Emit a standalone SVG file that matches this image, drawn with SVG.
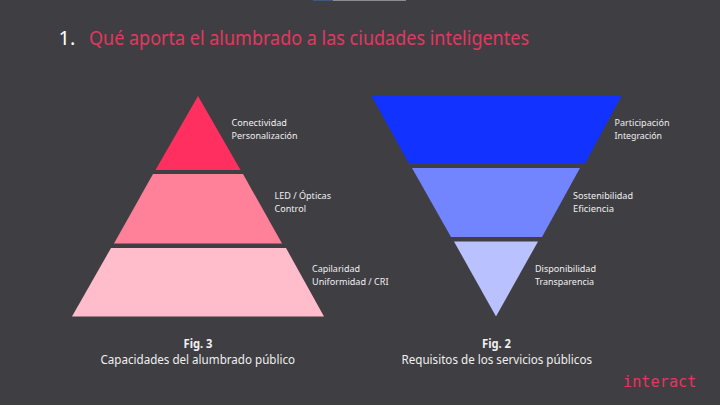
<svg xmlns="http://www.w3.org/2000/svg" width="720" height="405" viewBox="0 0 720 405">
<style>
text{font-family:"Noto Sans","Open Sans","Liberation Sans",sans-serif;fill:#f0f0f0}
.l{font-size:9.8px}
.c{font-size:12.6px}
.b{font-weight:700;font-size:12.4px}
.t{font-size:20px;fill:#e5365f}
</style>
<rect width="720" height="405" fill="#3f3e43"/>
<g id="strip"><rect x="313" y="0" width="20" height="1" fill="#3c5a80"/><rect x="333" y="0" width="73" height="1" fill="#8d8d90"/></g>
<g id="title"><text x="58.500" y="44.500" style="font-size:20px;fill:#fff">1.</text><text class="t" x="89" y="44.500" textLength="440" lengthAdjust="spacingAndGlyphs">Qué aporta el alumbrado a las ciudades inteligentes</text></g>
<g id="pyramid">
<g id="p1"><polygon points="198,96 240.500,170 155.500,170" fill="#ff3060"/><text class="l" x="231.500" y="125.500" textLength="55.500" lengthAdjust="spacingAndGlyphs">Conectividad</text><text class="l" x="231.500" y="138.500" textLength="66" lengthAdjust="spacingAndGlyphs">Personalización</text></g>
<g id="p2"><polygon points="153,174 243,174 282,243.500 114,243.500" fill="#ff8099"/><text class="l" x="274.500" y="198.500" textLength="56.500" lengthAdjust="spacingAndGlyphs">LED / Ópticas</text><text class="l" x="274.500" y="211.500" textLength="31.500" lengthAdjust="spacingAndGlyphs">Control</text></g>
<g id="p3"><polygon points="111,248 286,248 324,316.500 72,316.500" fill="#ffbccb"/><text class="l" x="312" y="271.500" textLength="48" lengthAdjust="spacingAndGlyphs">Capilaridad</text><text class="l" x="312" y="284.500" textLength="76.500" lengthAdjust="spacingAndGlyphs">Uniformidad / CRI</text></g>
</g>
<g id="funnel">
<g id="f1"><polygon points="371,95 622,95 585,163.500 409,163.500" fill="#1232ff"/><text class="l" x="614.500" y="125.500" textLength="55" lengthAdjust="spacingAndGlyphs">Participación</text><text class="l" x="614.500" y="138.500" textLength="47.500" lengthAdjust="spacingAndGlyphs">Integración</text></g>
<g id="f2"><polygon points="412,168 580,168 542,237 451,237" fill="#7285ff"/><text class="l" x="573" y="198.500" textLength="60" lengthAdjust="spacingAndGlyphs">Sostenibilidad</text><text class="l" x="573" y="211.500" textLength="41" lengthAdjust="spacingAndGlyphs">Eficiencia</text></g>
<g id="f3"><polygon points="454,241.500 538,241.500 496,316.500" fill="#b9c2ff"/><text class="l" x="535" y="271.500" textLength="61" lengthAdjust="spacingAndGlyphs">Disponibilidad</text><text class="l" x="535" y="284.500" textLength="59" lengthAdjust="spacingAndGlyphs">Transparencia</text></g>
</g>
<g id="cap3"><text class="b" x="183.500" y="347.500" textLength="29" lengthAdjust="spacingAndGlyphs">Fig. 3</text><text class="c" x="100.500" y="363.500" textLength="194.500" lengthAdjust="spacingAndGlyphs">Capacidades del alumbrado público</text></g>
<g id="cap2"><text class="b" x="482" y="348" textLength="29" lengthAdjust="spacingAndGlyphs">Fig. 2</text><text class="c" x="401.500" y="364" textLength="190.500" lengthAdjust="spacingAndGlyphs">Requisitos de los servicios públicos</text></g>
<text id="logo" x="623" y="386.500" textLength="73.500" lengthAdjust="spacingAndGlyphs" style="font-family:'DejaVu Sans Mono',monospace;font-size:16.500px;fill:#e5365f">interact</text>
</svg>
